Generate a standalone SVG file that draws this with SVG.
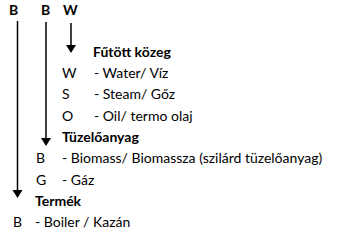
<svg xmlns="http://www.w3.org/2000/svg" width="340" height="241" viewBox="0 0 340 241">
<defs>
<style>
text{font-family:Lato,"Open Sans","Liberation Sans",sans-serif;font-size:14px;fill:#000}
.b{font-weight:bold}
.ln{stroke:#000;stroke-width:1.5;fill:none}
.hd{fill:#000}
</style>
</defs>
<rect width="340" height="241" fill="#fff"/>
<g id="connectors">
<line class="ln" x1="17.5" y1="21" x2="17.5" y2="192"/>
<polygon class="hd" points="12.5,190 22.5,190 17.5,198"/>
<line class="ln" x1="46" y1="22" x2="46" y2="140"/>
<polygon class="hd" points="41,138 51,138 46,146"/>
<line class="ln" x1="71" y1="23" x2="71" y2="47"/>
<polygon class="hd" points="66,45 76,45 71,53"/>
</g>
<g id="header">
<text class="b" x="9" y="15">B</text>
<text class="b" x="41" y="15">B</text>
<text class="b" x="63" y="15">W</text>
</g>
<g id="futott-kozeg">
<text class="b" x="93" y="57">Fűtött közeg</text>
<text x="62" y="78">W</text><text x="94" y="78">- Water/ Víz</text>
<text x="62" y="99">S</text><text x="94" y="99">- Steam/ Gőz</text>
<text x="62" y="121">O</text><text x="94" y="121">- Oil/ termo olaj</text>
</g>
<g id="tuzeloanyag">
<text class="b" x="62" y="142">Tüzelőanyag</text>
<text x="36" y="163">B</text><text x="62" y="163">- Biomass/ Biomassza (szilárd tüzelőanyag)</text>
<text x="36" y="185">G</text><text x="62" y="185">- Gáz</text>
</g>
<g id="termek">
<text class="b" x="35" y="206">Termék</text>
<text x="13" y="227">B</text><text x="35" y="227">- Boiler / Kazán</text>
</g>
</svg>
